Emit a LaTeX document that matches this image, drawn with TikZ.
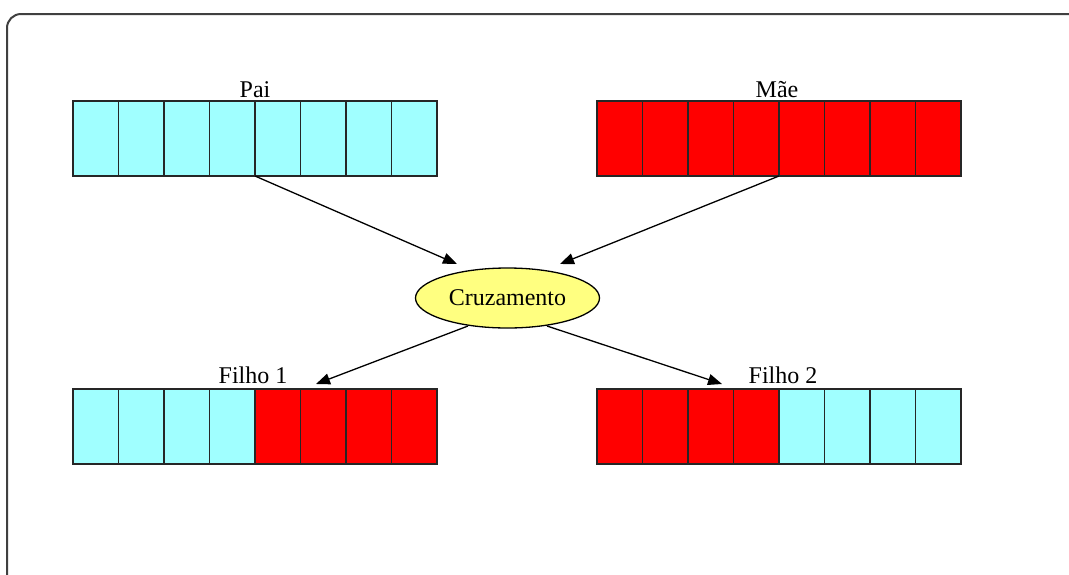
\documentclass[tikz,border=0pt]{standalone}
\usepackage{fontspec}
\setmainfont{Liberation Serif}
\usetikzlibrary{arrows.meta,shapes.geometric}
\definecolor{genea}{RGB}{160,255,255}
\definecolor{geneb}{RGB}{255,0,0}
\definecolor{crossfill}{RGB}{255,255,128}
\begin{document}
\begin{tikzpicture}[x=1pt,y=-1pt,
  cell/.style={draw=black!85,line width=1.6pt,minimum width=45.5pt,minimum height=75pt,
    inner sep=0pt,outer sep=0pt,anchor=north west},
  lbl/.style={anchor=base,inner sep=0pt,font=\fontsize{24}{28}\selectfont},
  link/.style={line width=1.3pt,-{Triangle[length=14pt,width=11pt]}},
  crossnode/.style={ellipse,draw=black,line width=1.3pt,fill=crossfill,
    minimum width=184pt,minimum height=60pt,inner sep=0pt,
    font=\fontsize{24}{28}\selectfont}]
\useasboundingbox (0,0) rectangle (1069,574);
% outer frame, partly cut off at right and bottom
\begin{scope}
  \clip (0,0) rectangle (1069,574);
  \draw[line width=2pt,draw=black!75,rounded corners=14pt] (7,14) rectangle (1100,610);
\end{scope}
% chromosomes
\foreach \i in {1,...,8} {
  \node[cell,fill=genea] (p\i) at ({73+(\i-1)*45.5},101) {};
  \node[cell,fill=geneb] (m\i) at ({597+(\i-1)*45.5},101) {};
}
\foreach \i in {1,...,4} {
  \node[cell,fill=genea] (fa\i) at ({73+(\i-1)*45.5},389) {};
  \node[cell,fill=geneb] (fb\i) at ({597+(\i-1)*45.5},389) {};
}
\foreach \i in {5,...,8} {
  \node[cell,fill=geneb] (fa\i) at ({73+(\i-1)*45.5},389) {};
  \node[cell,fill=genea] (fb\i) at ({597+(\i-1)*45.5},389) {};
}
% labels
\node[lbl] (lp) at (255,97) {Pai};
\node[lbl] (lm) at (777,97) {Mãe};
\node[lbl] (lf1) at (253,383) {Filho 1};
\node[lbl] (lf2) at (783,383) {Filho 2};
% crossover operator
\node[crossnode] (cruz) at (507.5,298) {Cruzamento};
% arrow end points
\coordinate (inL) at (457,264);
\coordinate (inR) at (560,264);
\coordinate (outL) at (468,326);
\coordinate (outR) at (547,326);
\coordinate (tipL) at (316,384);
\coordinate (tipR) at (722,384);
\draw[link] (p4.south east) -- (inL);
\draw[link] (m4.south east) -- (inR);
\draw[link] (outL) -- (tipL);
\draw[link] (outR) -- (tipR);
\end{tikzpicture}
\end{document}
